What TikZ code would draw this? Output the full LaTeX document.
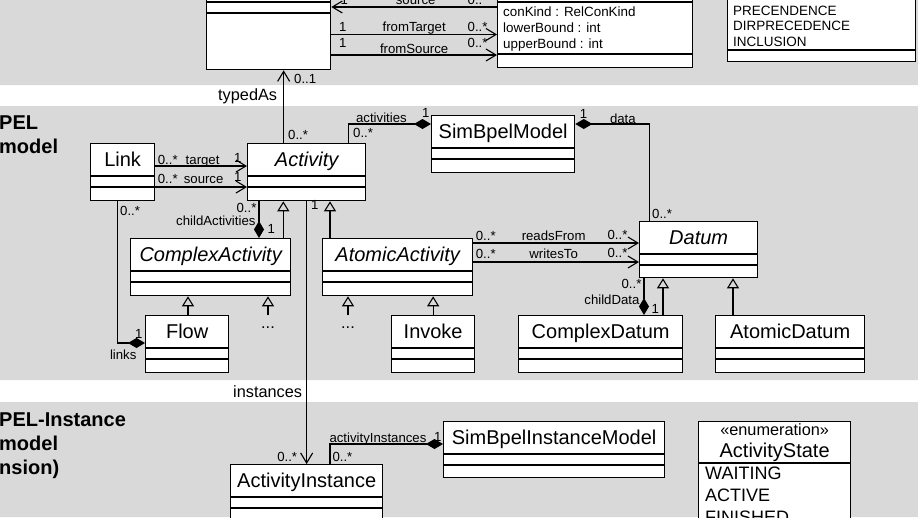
\documentclass[tikz,border=0pt]{standalone}
\usepackage{fontspec}
\setmainfont{Liberation Sans}
\usepackage{tikz}
\usetikzlibrary{positioning,arrows.meta}
\definecolor{bandgray}{RGB}{217,217,217}

% class box: [name style]{node}{north west}{width}{height}{title}
\newcommand{\umlclass}[6][]{%
  \node[clsbox, minimum width=#4, minimum height=#5, anchor=north west] (#2) at (#3) {};
  \node[clsname, #1] (#2-name) at ([yshift=-16.5pt]#2.north) {#6};
  \draw[boxline] ([yshift=-33pt]#2.north west) -- ([yshift=-33pt]#2.north east)
                 ([yshift=-44pt]#2.north west) -- ([yshift=-44pt]#2.north east);
}

\begin{document}
\begin{tikzpicture}[
    x=1pt, y=-1pt,
    clsbox/.style={draw, fill=white, line width=1.3pt, inner sep=0pt},
    clsname/.style={font=\fontsize{20}{24}\selectfont, inner sep=0pt,
                    text height=14.3pt, text depth=0pt},
    abstract/.style={font=\fontsize{20}{24}\selectfont\itshape},
    boxline/.style={line width=1.3pt},
    attrs/.style={font=\fontsize{13.4}{16}\selectfont, align=left,
                  inner xsep=6pt, inner ysep=0pt},
    lbl/.style={font=\fontsize{13.2}{14}\selectfont, inner sep=0pt},
    role/.style={font=\fontsize{16.3}{18}\selectfont, inner sep=0pt},
    region/.style={font=\fontsize{20}{24}\selectfont\bfseries, align=left, inner sep=0pt},
    assoc/.style={line width=1.1pt},
    nav/.style={assoc, -{Straight Barb[length=10pt,width=12pt]}},
    comp/.style={assoc, -{Diamond[length=17pt,width=10pt]}},
    gen/.style={assoc, -{Triangle[open,length=10pt,width=12pt]}},
  ]
  \path[use as bounding box] (0,0) rectangle (918,517);
  \clip (0,0) rectangle (918,517);

  % bands
  \fill[bandgray] (0,0) rectangle (918,85) (0,106) rectangle (918,380)
                  (0,402) rectangle (918,517);
  \node[region, anchor=north west] (bpel) at (-1,116) {PEL\\model};
  \node[region, anchor=north west] (bpelinst) at (-1,413) {PEL-Instance\\model\\nsion)};

  % top band
  \umlclass{ptype}{206,-31}{124pt}{100pt}{}
  \node[clsbox, minimum width=195pt, minimum height=98pt, anchor=north west] (rel) at (497,-31) {};
  \node[attrs, anchor=north west] (rel-attr) at (497,6.3)
    {conKind : RelConKind\\lowerBound : int\\upperBound : int};
  \draw[boxline] ([yshift=-33pt]rel.north west) -- ([yshift=-33pt]rel.north east)
                 ([yshift=-85pt]rel.north west) -- ([yshift=-85pt]rel.north east);
  \node[clsbox, minimum width=188pt, minimum height=101pt, anchor=north west] (relkind) at (727,-40) {};
  \node[attrs, font=\fontsize{13.5}{15.5}\selectfont, anchor=north west] (relkind-lit) at (727,5.4)
    {PRECENDENCE\\DIRPRECEDENCE\\INCLUSION};
  \draw[boxline] ([yshift=-90pt]relkind.north west) -- ([yshift=-90pt]relkind.north east);

  % model band
  \umlclass{link}{90,143}{64pt}{57pt}{Link}
  \umlclass[abstract]{act}{247,143}{118pt}{57pt}{Activity}
  \umlclass{sbm}{431,115}{143pt}{57pt}{SimBpelModel}
  \umlclass[abstract]{datum}{639,221}{118pt}{56pt}{Datum}
  \umlclass[abstract]{cact}{130,238}{160pt}{57pt}{ComplexActivity}
  \umlclass[abstract]{aact}{322,238}{150pt}{57pt}{AtomicActivity}
  \umlclass{flow}{145,315}{83pt}{57pt}{Flow}
  \umlclass{invoke}{391,315}{83pt}{57pt}{Invoke}
  \umlclass{cdatum}{518,315}{164pt}{57pt}{ComplexDatum}
  \umlclass{adatum}{715,315}{149pt}{57pt}{AtomicDatum}
  \node[role] (cmore) at (268,328) {...};
  \node[role] (amore) at (348,328) {...};
  \coordinate (cmore-top) at (268,315);
  \coordinate (amore-top) at (348,315);

  % instance band
  \umlclass{ainst}{230,464}{152pt}{57pt}{ActivityInstance}
  \umlclass{sbim}{443,421}{221pt}{56pt}{SimBpelInstanceModel}
  \node[clsbox, minimum width=152pt, minimum height=130pt, anchor=north west] (astate) at (698,421) {};
  \node[role, anchor=base] (astate-st) at ([yshift=-14pt]astate.north) {«enumeration»};
  \node[clsname, anchor=base] (astate-name) at ([yshift=-36pt]astate.north) {ActivityState};
  \draw[boxline] ([yshift=-42pt]astate.north west) -- ([yshift=-42pt]astate.north east);
  \node[attrs, font=\fontsize{18}{22}\selectfont, inner xsep=7pt, anchor=north west] (astate-lit)
    at ([yshift=-46pt]astate.north west) {WAITING\\ACTIVE\\FINISHED};

  % associations
  \draw[nav] ([yshift=-38pt]rel.north west) -- ([yshift=-38pt]ptype.north east)
    node[lbl, pos=0.117, anchor=base, yshift=2.5pt] {0..*}
    node[lbl, pos=0.491, anchor=base, yshift=2.5pt] {source}
    node[lbl, pos=0.922, anchor=base, yshift=2.5pt] {1};
  \draw[nav] ([yshift=-65.5pt]ptype.north east) -- ([yshift=-65.5pt]rel.north west)
    node[lbl, pos=0.07, anchor=base, yshift=3pt] {1}
    node[lbl, pos=0.5, anchor=base, yshift=3pt] {fromTarget}
    node[lbl, pos=0.883, anchor=base, yshift=3pt] {0..*};
  \draw[nav] ([yshift=-86pt]ptype.north east) -- ([yshift=-86pt]rel.north west)
    node[lbl, pos=0.07, anchor=base, yshift=8pt] {1}
    node[lbl, pos=0.5, anchor=base, yshift=2pt] {fromSource}
    node[lbl, pos=0.883, anchor=base, yshift=8pt] {0..*};
  \draw[nav] ([xshift=-23pt]act.north) -- ([xshift=-23pt]act.north |- ptype.south)
    node[lbl, pos=0, anchor=base west, xshift=4pt, yshift=4pt] {0..*}
    node[role, pos=0.58, anchor=base east, xshift=-6pt] {typedAs}
    node[lbl, pos=1, anchor=base west, xshift=10pt, yshift=-13pt] {0..1};

  \draw[nav] ([yshift=-23pt]link.north east) -- ([yshift=-23pt]act.north west)
    node[lbl, pos=0, anchor=base west, xshift=2pt, yshift=2pt] {0..*}
    node[lbl, pos=0.516, anchor=base, yshift=2pt] {target}
    node[lbl, pos=1, anchor=base east, xshift=-5pt, yshift=4pt] {1};
  \draw[nav] ([yshift=-44pt]link.north east) -- ([yshift=-44pt]act.north west)
    node[lbl, pos=0, anchor=base west, xshift=2pt, yshift=4pt] {0..*}
    node[lbl, pos=0.527, anchor=base, yshift=4pt] {source}
    node[lbl, pos=1, anchor=base east, xshift=-5pt, yshift=6pt] {1};
  \draw[comp] ([xshift=42pt]act.north) |- ([yshift=-9pt]sbm.north west)
    node[lbl, pos=0, anchor=base west, xshift=4pt, yshift=6pt] {0..*}
    node[lbl, pos=0.699, anchor=base, yshift=1.5pt] {activities}
    node[lbl, pos=1, anchor=base east, xshift=-1pt, yshift=7pt] {1};
  \draw[comp] ([xshift=-49pt]datum.north) |- ([yshift=-9pt]sbm.north east)
    node[lbl, pos=0, anchor=base west, xshift=2pt, yshift=3pt] {0..*}
    node[lbl, pos=0.68, anchor=base, yshift=1pt] {data}
    node[lbl, pos=1, anchor=base west, xshift=4pt, yshift=6pt] {1};
  \draw[comp] ([xshift=12pt]act.south west) -- ([xshift=12pt]act.south west |- cact.north)
    node[lbl, pos=0, anchor=base east, xshift=-2pt, yshift=-11pt] {0..*}
    node[lbl, pos=0, anchor=base east, xshift=-3pt, yshift=-24pt] {childActivities}
    node[lbl, pos=1, anchor=base west, xshift=8pt, yshift=5pt] {1};
  \draw[comp] ([xshift=-5pt]link.south) |- ([yshift=-28pt]flow.north west)
    node[lbl, pos=0, anchor=base west, xshift=2pt, yshift=-14pt] {0..*}
    node[lbl, pos=1, anchor=base east, xshift=-2pt, yshift=5pt] {1}
    node[lbl, pos=1, anchor=base east, xshift=-8pt, yshift=-16pt] {links};
  \draw[nav] ([yshift=-5pt]aact.north east) -- ([yshift=-22pt]datum.north west)
    node[lbl, pos=0, anchor=base west, xshift=2pt, yshift=3pt] {0..*}
    node[lbl, pos=0.485, anchor=base, yshift=3pt] {readsFrom}
    node[lbl, pos=1, anchor=base east, xshift=-11pt, yshift=4pt] {0..*};
  \draw[nav] ([yshift=-24pt]aact.north east) -- ([yshift=-41pt]datum.north west)
    node[lbl, pos=0, anchor=base west, xshift=2pt, yshift=4pt] {0..*}
    node[lbl, pos=0.485, anchor=base, yshift=4pt] {writesTo}
    node[lbl, pos=1, anchor=base east, xshift=-11pt, yshift=5pt] {0..*};
  \draw[comp] ([xshift=5pt]datum.south west) -- ([xshift=5pt]datum.south west |- cdatum.north)
    node[lbl, pos=0, anchor=base east, xshift=-2pt, yshift=-10pt] {0..*}
    node[lbl, pos=0, anchor=base east, xshift=-4pt, yshift=-26pt] {childData}
    node[lbl, pos=1, anchor=base west, xshift=7pt, yshift=2pt] {1};
  \draw[nav] (act.south) -- (ainst.north)
    node[lbl, pos=0, anchor=base west, xshift=4pt, yshift=-8pt] {1}
    node[role, pos=0.746, anchor=base east, xshift=-4pt] {instances}
    node[lbl, pos=1, anchor=base east, xshift=-9pt, yshift=3pt] {0..*};
  \draw[comp] ([xshift=100pt]ainst.north west) |- ([yshift=-23pt]sbim.north west)
    node[lbl, pos=0, anchor=base west, xshift=2pt, yshift=3pt] {0..*}
    node[lbl, pos=0.5, anchor=base west, xshift=-1pt, yshift=2pt] {activityInstances}
    node[lbl, pos=1, anchor=base east, xshift=-1pt, yshift=3pt] {1};

  % generalizations
  \draw[gen] ([xshift=-8pt]cact.north east) -- ([xshift=-8pt]cact.north east |- act.south);
  \draw[gen] ([xshift=8pt]aact.north west) -- ([xshift=8pt]aact.north west |- act.south);
  \draw[gen] ([xshift=43pt]flow.north west) -- ([xshift=43pt]flow.north west |- cact.south);
  \draw[gen] (cmore-top) -- (cmore-top |- cact.south);
  \draw[gen] (amore-top) -- (amore-top |- aact.south);
  \draw[gen] (invoke.north) -- (invoke.north |- aact.south);
  \draw[gen] ([xshift=24pt]datum.south west |- cdatum.north) -- ([xshift=24pt]datum.south west);
  \draw[gen] ([xshift=94pt]datum.south west |- adatum.north) -- ([xshift=94pt]datum.south west);
\end{tikzpicture}
\end{document}
